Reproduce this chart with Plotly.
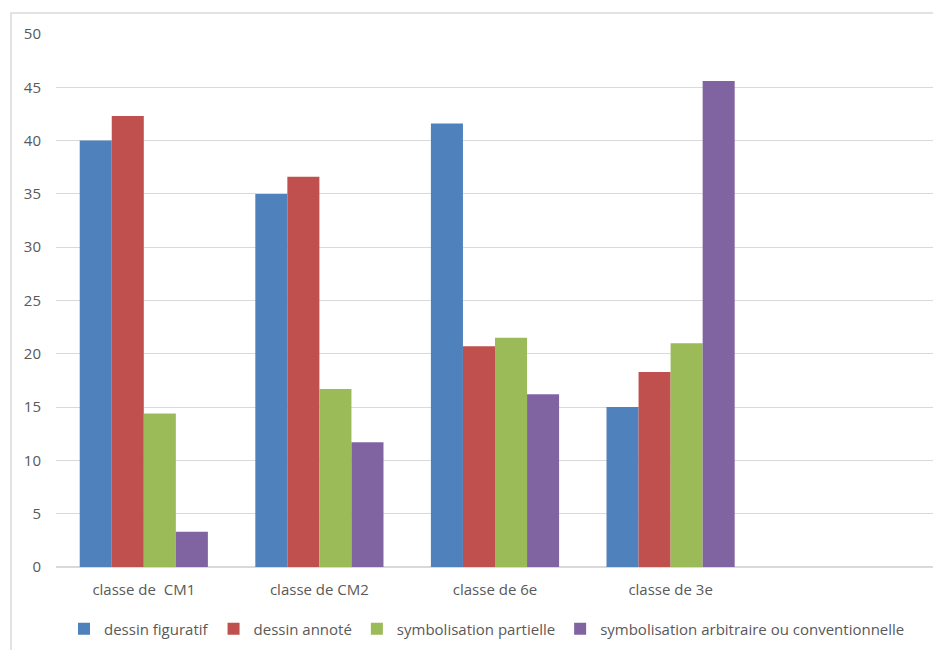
import plotly.graph_objects as go

categories = ["classe de  CM1", "classe de CM2", "classe de 6e", "classe de 3e"]
series_names = ["dessin figuratif", "dessin annoté", "symbolisation partielle",
                "symbolisation arbitraire ou conventionnelle"]
dessin_figuratif = [40.0, 35.0, 41.6, 15.0]
dessin_annote = [42.3, 36.6, 20.7, 18.3]
symbolisation_partielle = [14.4, 16.7, 21.5, 21.0]
symbolisation_arbitraire = [3.3, 11.7, 16.2, 45.6]
colors = ["#4F81BD", "#C0504D", "#9BBB59", "#8064A2"]
y_ticks = [0, 5, 10, 15, 20, 25, 30, 35, 40, 45, 50]

series = [dessin_figuratif, dessin_annote, symbolisation_partielle, symbolisation_arbitraire]

fig = go.Figure()
for name, vals, col in zip(series_names, series, colors):
    fig.add_trace(go.Bar(x=categories, y=vals, name=name, marker=dict(color=col, line=dict(width=0))))

W, H = 941, 650
OFF = 8  # page body margin
l, r, t, b = 56 - OFF, W - (934 - OFF), 34 - OFF, H - (567 - OFF)
pw, ph = W - l - r, H - t - b

fig.update_layout(
    width=W, height=H,
    margin=dict(l=l, r=r, t=t, b=b, autoexpand=False),
    paper_bgcolor="white", plot_bgcolor="white",
    barmode="group", bargap=0.27, bargroupgap=0,
    font=dict(family="Open Sans, Liberation Sans, sans-serif", size=15, color="#595959"),
    xaxis=dict(type="category", range=[-0.5, 4.5], showgrid=False, showline=False,
               ticks="", ticklabelstandoff=12, tickfont=dict(size=15, color="#595959"),
               zeroline=False),
    yaxis=dict(range=[0, 50], tickvals=y_ticks, showgrid=True, gridcolor="#D9D9D9",
               gridwidth=1, zeroline=True, zerolinecolor="#D9D9D9", showline=False,
               ticks="", ticklabelstandoff=14, tickfont=dict(size=15, color="#595959")),
    legend=dict(orientation="h", x=(487 - OFF - l) / pw, xanchor="center",
                y=-(629 - 567) / ph, yanchor="middle", font=dict(size=15, color="#595959"),
                itemwidth=30, traceorder="normal", tracegroupgap=0),
    showlegend=True,
)

# chart-area border (left and top edges visible; right/bottom run off the page)
bx0, by0 = 11 - OFF, 13 - OFF
fig.add_shape(type="rect", xref="paper", yref="paper",
              x0=(bx0 - l) / pw, x1=(W + 5 - l) / pw,
              y0=(t + ph - (H + 5)) / ph, y1=(t + ph - by0) / ph,
              line=dict(color="#D9D9D9", width=1.5), fillcolor="rgba(0,0,0,0)", layer="below")

fig.write_html("out.html")
